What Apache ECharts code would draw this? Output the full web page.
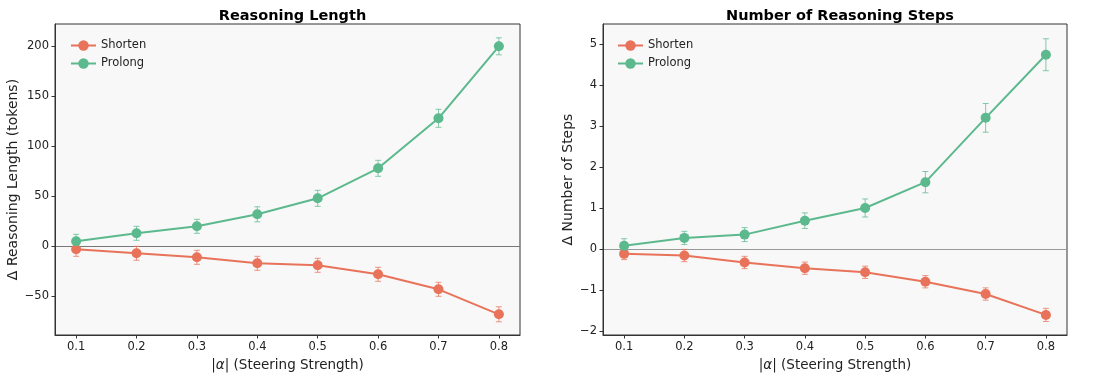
<!DOCTYPE html>
<html>
<head>
<meta charset="utf-8">
<script src="https://cdn.jsdelivr.net/npm/echarts@6/dist/echarts.min.js"></script>
<style>html,body{margin:0;padding:0;background:#fff;}#c{width:1100px;height:380px;}</style>
</head>
<body>
<div id="c"></div>
<script>
const alphas = [0.1, 0.2, 0.3, 0.4, 0.5, 0.6, 0.7, 0.8];
const xTicks = [0.1, 0.2, 0.3, 0.4, 0.5, 0.6, 0.7, 0.8];
const lenTicks = [-50, 0, 50, 100, 150, 200];
const stepTicks = [-2, -1, 0, 1, 2, 3, 4, 5];

const lenShorten = [-3, -7, -11, -17, -19, -28, -43, -68];
const lenShortenErr = [7, 7, 7, 7, 7, 7, 7, 7.5];
const lenProlong = [5, 13, 20, 32, 48, 78, 128, 200];
const lenProlongErr = [7, 7, 7, 7.5, 8, 8, 9, 8.5];

const stepShorten = [-0.12, -0.16, -0.33, -0.47, -0.57, -0.80, -1.10, -1.61];
const stepShortenErr = [0.14, 0.15, 0.15, 0.15, 0.15, 0.15, 0.15, 0.16];
const stepProlong = [0.08, 0.27, 0.35, 0.69, 1.00, 1.63, 3.20, 4.74];
const stepProlongErr = [0.17, 0.16, 0.17, 0.19, 0.22, 0.26, 0.35, 0.39];

const cShort = '#E8735A';
const cProl = '#5CB98D';
const FONT = 'DejaVu Sans';

function pts(vals) { return alphas.map((a, i) => [a, vals[i]]); }
function errs(vals, e) { return alphas.map((a, i) => [a, vals[i] - e[i], vals[i] + e[i]]); }

function errSeries(name, data, color, idx) {
  return {
    type: 'custom', name: name, xAxisIndex: idx, yAxisIndex: idx, z: 1,
    encode: { x: 0, y: [1, 2] }, silent: true, itemStyle: { color: color },
    data: data,
    renderItem: function (params, api) {
      const x = api.value(0);
      const lo = api.coord([x, api.value(1)]);
      const hi = api.coord([x, api.value(2)]);
      const cap = 3;
      const st = { stroke: color, lineWidth: 1, opacity: 0.75 };
      return {
        type: 'group', children: [
          { type: 'line', shape: { x1: lo[0], y1: lo[1], x2: hi[0], y2: hi[1] }, style: st },
          { type: 'line', shape: { x1: lo[0] - cap, y1: lo[1], x2: lo[0] + cap, y2: lo[1] }, style: st },
          { type: 'line', shape: { x1: hi[0] - cap, y1: hi[1], x2: hi[0] + cap, y2: hi[1] }, style: st }
        ]
      };
    }
  };
}
function lineSeries(name, data, color, idx, zeroColor) {
  const s = {
    type: 'line', name: name, xAxisIndex: idx, yAxisIndex: idx, z: 3,
    data: data, symbol: 'circle', symbolSize: 10, showSymbol: true,
    lineStyle: { color: color, width: 2 }, itemStyle: { color: color },
    emphasis: { disabled: true }, animation: false
  };
  if (zeroColor) {
    s.markLine = { silent: true, symbol: 'none', label: { show: false }, z: 0,
      lineStyle: { color: zeroColor, width: 1, type: 'solid' }, data: [{ yAxis: 0 }] };
  }
  return s;
}

const grids = [
  { left: 55, top: 24, width: 465, height: 311 },
  { left: 603, top: 24, width: 464, height: 311 }
];

function xAxis(idx) {
  return {
    type: 'value', gridIndex: idx, min: 0.065, max: 0.835,
    name: '|{a|α}| (Steering Strength)', nameLocation: 'middle', nameGap: 23,
    nameTextStyle: { fontFamily: FONT, fontSize: 13.5, color: '#222',
      rich: { a: { fontFamily: FONT, fontSize: 13.5, fontStyle: 'italic', color: '#222' } } },
    axisLine: { show: true, onZero: false, lineStyle: { color: '#333', width: 1 } },
    axisTick: { show: true, length: 3.5, customValues: xTicks, lineStyle: { color: '#333' } },
    axisLabel: { customValues: xTicks, fontFamily: FONT, fontSize: 11.5, color: '#222', margin: 6,
      formatter: v => v.toFixed(1) },
    splitLine: { show: false }
  };
}
function yAxis(idx, min, max, ticks, name, gap) {
  return {
    type: 'value', gridIndex: idx, min: min, max: max,
    name: name, nameLocation: 'middle', nameGap: gap,
    nameTextStyle: { fontFamily: FONT, fontSize: 14, color: '#222' },
    axisLine: { show: true, lineStyle: { color: '#333', width: 1 } },
    axisTick: { show: true, length: 3.5, customValues: ticks, lineStyle: { color: '#333' } },
    axisLabel: { customValues: ticks, fontFamily: FONT, fontSize: 11.5, color: '#222', margin: 6,
      formatter: v => (v < 0 ? '\u2212' + Math.abs(v) : String(v)) },
    splitLine: { show: false }
  };
}

const legendCommon = {
  orient: 'vertical', itemWidth: 25, itemHeight: 13, itemGap: 5,
  textStyle: { fontFamily: FONT, fontSize: 11.5, color: '#222', lineHeight: 13 },
  data: ['Shorten', 'Prolong'], selectedMode: false
};

const chart = echarts.init(document.getElementById('c'), null, { renderer: 'canvas' });
chart.setOption({
  animation: false,
  backgroundColor: '#ffffff',
  title: [
    { text: 'Reasoning Length', left: 287.5, textAlign: 'center', top: 4,
      textStyle: { fontFamily: FONT, fontSize: 14.5, fontWeight: 'bold', color: '#000' } },
    { text: 'Number of Reasoning Steps', left: 835, textAlign: 'center', top: 4,
      textStyle: { fontFamily: FONT, fontSize: 14.5, fontWeight: 'bold', color: '#000' } }
  ],
  legend: [
    Object.assign({ left: 65, top: 34 }, legendCommon),
    Object.assign({ left: 612, top: 34 }, legendCommon)
  ],
  grid: grids.map(g => Object.assign({ show: true, backgroundColor: '#f8f8f8', borderColor: '#333', borderWidth: 1 }, g)),
  xAxis: [xAxis(0), xAxis(1)],
  yAxis: [
    yAxis(0, -88.7, 222.3, lenTicks, 'Δ Reasoning Length (tokens)', 35),
    yAxis(1, -2.1, 5.49, stepTicks, 'Δ Number of Steps', 28)
  ],
  series: [
    lineSeries('Shorten', pts(lenShorten), cShort, 0, '#777'),
    lineSeries('Prolong', pts(lenProlong), cProl, 0),
    lineSeries('Shorten', pts(stepShorten), cShort, 1, '#999'),
    lineSeries('Prolong', pts(stepProlong), cProl, 1),
    errSeries('Shorten', errs(lenShorten, lenShortenErr), cShort, 0),
    errSeries('Prolong', errs(lenProlong, lenProlongErr), cProl, 0),
    errSeries('Shorten', errs(stepShorten, stepShortenErr), cShort, 1),
    errSeries('Prolong', errs(stepProlong, stepProlongErr), cProl, 1)
  ]
});
</script>
</body>
</html>
